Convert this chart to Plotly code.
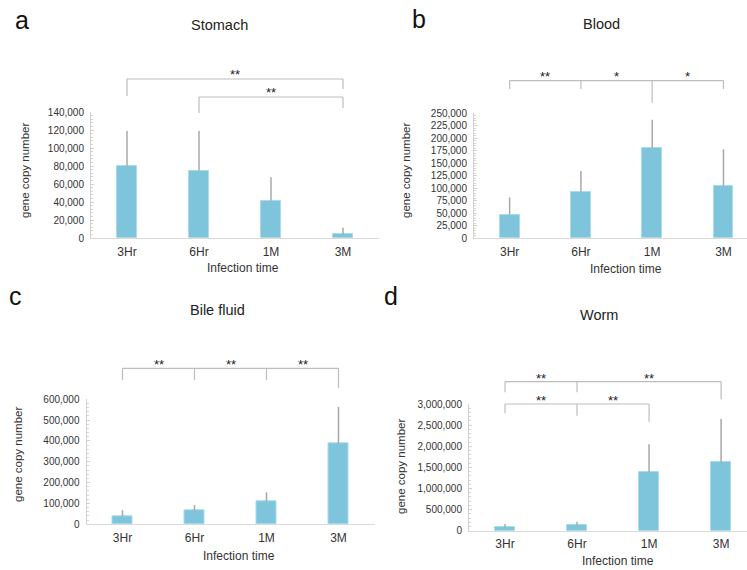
import plotly.graph_objects as go

W, H = 747, 570

categories = ["3Hr", "6Hr", "1M", "3M"]

stomach_mean = [80000, 75000, 41500, 4000]
stomach_sd = [39000, 44000, 26000, 7500]
blood_mean = [47000, 92500, 180500, 104500]
blood_sd = [34000, 41500, 56000, 73000]
bile_mean = [40000, 65000, 109000, 387000]
bile_sd = [27000, 28000, 45000, 176000]
worm_mean = [80000, 134000, 1383000, 1627000]
worm_sd = [78000, 79000, 663000, 1018000]

titles = ["Stomach", "Blood", "Bile fluid", "Worm"]
letters = ["a", "b", "c", "d"]
y_max = [140000, 250000, 600000, 3000000]
y_dtick = [20000, 25000, 100000, 500000]

FONT = "Liberation Sans, Arial, Helvetica, sans-serif"
BAR = "#7ec5dc"
GREY = "#bdbdbd"


def px(x):
    return x / W


def py(y):
    return 1 - y / H


# panel layout in pixels
panels = [
    dict(xl=91, xr=379, y0=238, y1=112, xmax=3.5,
         letter=(22, 20), title=(219, 25), ytitle=(25, 171), xtitle=(243, 268)),
    dict(xl=474, xr=747, y0=238, y1=113, xmax=3.33,
         letter=(419, 19), title=(601, 24), ytitle=(406, 171), xtitle=(626, 269)),
    dict(xl=86.5, xr=374.5, y0=524.3, y1=399.3, xmax=3.5,
         letter=(15, 296), title=(217, 310), ytitle=(18, 455), xtitle=(239, 556)),
    dict(xl=469, xr=747, y0=530.7, y1=404, xmax=3.36,
         letter=(391, 296), title=(599, 315), ytitle=(401, 467), xtitle=(618, 561)),
]

# significance brackets
brackets = [
    [(0, 3, 79, {0: 96, 3: 89}, [(1.5, "**")], 72),
     (1, 3, 97, {1: 113, 3: 108}, [(2, "**")], 89)],
    [(0, 3, 80.7, {0: 89, 1: 89, 2: 102.7, 3: 89}, [(0.5, "**"), (1.5, "*"), (2.5, "*")], 74)],
    [(0, 3, 368.3, {0: 380, 1: 380, 2: 380, 3: 387.7}, [(0.5, "**"), (1.5, "**"), (2.5, "**")], 361)],
    [(0, 3, 381.7, {0: 392.3, 1: 392.3, 3: 399.3}, [(0.5, "**"), (2, "**")], 375),
     (0, 2, 404, {0: 413.3, 1: 415.7, 2: 421.7}, [(0.5, "**"), (1.5, "**")], 397)],
]

means = [stomach_mean, blood_mean, bile_mean, worm_mean]
sds = [stomach_sd, blood_sd, bile_sd, worm_sd]

fig = go.Figure()
shapes = []
annotations = []


def label(text, x, y, size, color="#333", angle=0, xref="paper"):
    return dict(text=text, x=x, y=y, xref=xref, yref="paper", showarrow=False,
                xanchor="center", yanchor="middle", textangle=angle,
                font=dict(family=FONT, size=size, color=color))


for i, p in enumerate(panels):
    n = "" if i == 0 else str(i + 1)
    xa, ya = "x" + n, "y" + n
    fig.add_trace(go.Bar(
        x=list(range(len(categories))), y=means[i],
        xaxis=xa, yaxis=ya, width=0.28,
        marker=dict(color=BAR, line=dict(color="#a9dbea", width=1)),
        error_y=dict(type="data", symmetric=False, array=sds[i],
                     arrayminus=[0] * len(categories),
                     color="#a8a8a8", thickness=1.5, width=0),
        showlegend=False, hoverinfo="skip",
    ))
    xkey = "xaxis" + n
    ykey = "yaxis" + n
    fig.layout[xkey] = dict(
        domain=[px(p["xl"]), px(p["xr"])], anchor=ya,
        range=[-0.5, p["xmax"]], tickmode="array",
        tickvals=list(range(len(categories))), ticktext=categories,
        showline=True, linecolor="#d9d9d9", linewidth=1.2,
        ticks="", showgrid=False, zeroline=False,
        tickfont=dict(family=FONT, size=12, color="#333"),
        ticklabelstandoff=2, automargin=False,
    )
    fig.layout[ykey] = dict(
        domain=[py(p["y0"]), py(p["y1"])], anchor=xa,
        range=[0, y_max[i]], dtick=y_dtick[i], tick0=0,
        tickformat=",d", showline=True, linecolor="#d0d0d0", linewidth=1,
        ticks="inside", ticklen=3, tickcolor="#d0d0d0",
        minor=dict(dtick=y_dtick[i] / 5, ticks="inside", ticklen=2,
                   tickcolor="#d6d6d6"),
        showgrid=False, zeroline=False,
        tickfont=dict(family=FONT, size=10, color="#333"),
        ticklabelstandoff=4, automargin=False,
    )

    annotations.append(label(letters[i], px(p["letter"][0]), py(p["letter"][1]), 25, "#111"))
    annotations.append(label(titles[i], px(p["title"][0]), py(p["title"][1]), 14.5, "#222"))
    annotations.append(label("gene copy number", px(p["ytitle"][0]), py(p["ytitle"][1]),
                             11.5, angle=-90))
    annotations.append(label("Infection time", px(p["xtitle"][0]), py(p["xtitle"][1]), 12))

    for (a, b, yh, drops, stars, ys) in brackets[i]:
        shapes.append(dict(type="line", xref=xa, yref="paper", x0=a, x1=b,
                           y0=py(yh), y1=py(yh), line=dict(color=GREY, width=1.2)))
        for idx, yend in drops.items():
            shapes.append(dict(type="line", xref=xa, yref="paper", x0=idx, x1=idx,
                               y0=py(yh), y1=py(yend), line=dict(color=GREY, width=1.2)))
        for sx, txt in stars:
            annotations.append(label(txt, sx, py(ys + 3), 13, "#222", xref=xa))

fig.update_layout(
    width=W, height=H, margin=dict(l=0, r=0, t=0, b=0),
    paper_bgcolor="white", plot_bgcolor="white",
    shapes=shapes, annotations=annotations, bargap=0,
)

fig.write_html("out.html", config={"displayModeBar": False},
               post_script="document.body.style.margin='0px';")
